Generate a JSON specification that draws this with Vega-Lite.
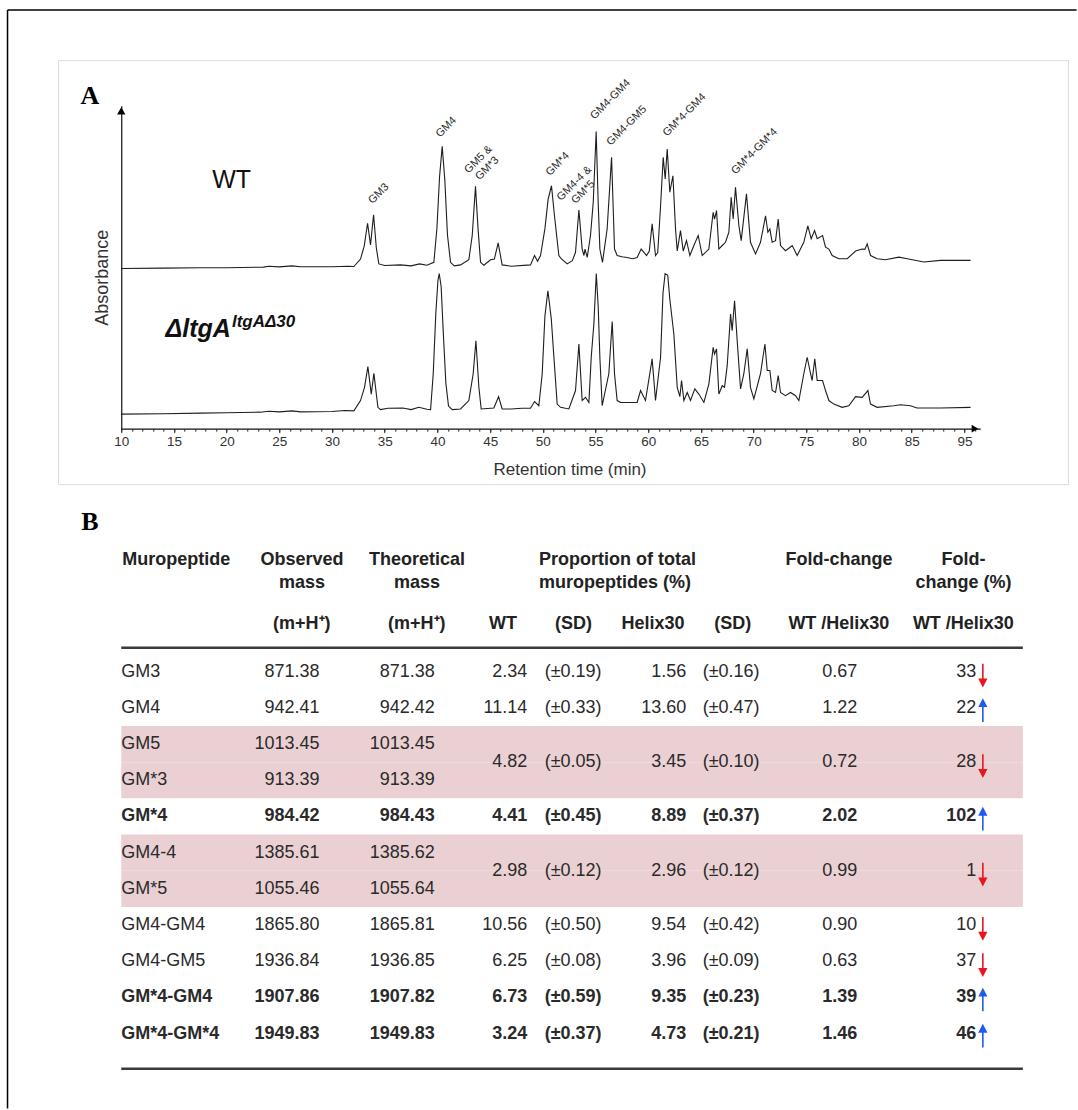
{
"$schema": "https://vega.github.io/schema/vega-lite/v6.json",
"autosize": {"type": "pad"},
"padding": {"left": 6.25, "top": 8.65, "right": 0, "bottom": 0},
"background": "#ffffff",
"bounds": "flush",
"spacing": 225,
"config": {"view": {"stroke": null}, "font": "Liberation Sans"},
"datasets": {
"chrom": [
{"s":"WT","t":10,"u":49.6},{"s":"WT","t":14,"u":49.7},{"s":"WT","t":17.5,"u":49.8},{"s":"WT","t":20,"u":49.8},{"s":"WT","t":23.5,"u":50.0},{"s":"WT","t":24,"u":50.3},{"s":"WT","t":25,"u":50.1},{"s":"WT","t":26.2,"u":50.4},{"s":"WT","t":27,"u":50.1},{"s":"WT","t":30,"u":50.1},{"s":"WT","t":31.5,"u":50.3},{"s":"WT","t":32.07,"u":50.2},{"s":"WT","t":32.7,"u":52.5},{"s":"WT","t":33.05,"u":56.5},{"s":"WT","t":33.37,"u":63.6},{"s":"WT","t":33.65,"u":56.9},{"s":"WT","t":33.94,"u":66.2},{"s":"WT","t":34.2,"u":56},{"s":"WT","t":34.44,"u":51},{"s":"WT","t":35,"u":50.5},{"s":"WT","t":36.5,"u":50.7},{"s":"WT","t":37.5,"u":50.4},{"s":"WT","t":38.3,"u":51},{"s":"WT","t":39.0,"u":50.6},{"s":"WT","t":39.66,"u":51.5},{"s":"WT","t":39.95,"u":62},{"s":"WT","t":40.2,"u":78},{"s":"WT","t":40.45,"u":87.4},{"s":"WT","t":40.7,"u":77},{"s":"WT","t":40.95,"u":60},{"s":"WT","t":41.24,"u":51.5},{"s":"WT","t":41.6,"u":50.4},{"s":"WT","t":42.19,"u":50.7},{"s":"WT","t":42.98,"u":52.3},{"s":"WT","t":43.3,"u":59.8},{"s":"WT","t":43.61,"u":75.0},{"s":"WT","t":43.85,"u":62},{"s":"WT","t":44.09,"u":51.5},{"s":"WT","t":44.4,"u":50.6},{"s":"WT","t":45.04,"u":52.3},{"s":"WT","t":45.4,"u":52.5},{"s":"WT","t":45.76,"u":57.5},{"s":"WT","t":46.14,"u":50.7},{"s":"WT","t":47,"u":50.3},{"s":"WT","t":48.83,"u":50.7},{"s":"WT","t":49.21,"u":53.6},{"s":"WT","t":49.5,"u":51.8},{"s":"WT","t":49.78,"u":53.6},{"s":"WT","t":50.2,"u":62},{"s":"WT","t":50.5,"u":71},{"s":"WT","t":50.82,"u":75.2},{"s":"WT","t":51.1,"u":66},{"s":"WT","t":51.52,"u":53.6},{"s":"WT","t":51.74,"u":52.6},{"s":"WT","t":52.31,"u":51.0},{"s":"WT","t":52.8,"u":52},{"s":"WT","t":53.1,"u":54.6},{"s":"WT","t":53.42,"u":67.7},{"s":"WT","t":53.73,"u":55.6},{"s":"WT","t":53.9,"u":53.6},{"s":"WT","t":54.0,"u":55.6},{"s":"WT","t":54.21,"u":53.0},{"s":"WT","t":54.52,"u":59.8},{"s":"WT","t":54.78,"u":70},{"s":"WT","t":55.06,"u":92.0},{"s":"WT","t":55.25,"u":70},{"s":"WT","t":55.41,"u":55.6},{"s":"WT","t":55.66,"u":51.5},{"s":"WT","t":56.1,"u":61.8},{"s":"WT","t":56.52,"u":84.0},{"s":"WT","t":56.8,"u":55.6},{"s":"WT","t":57.05,"u":53.6},{"s":"WT","t":57.5,"u":53.2},{"s":"WT","t":58.0,"u":53.0},{"s":"WT","t":58.5,"u":52.6},{"s":"WT","t":58.95,"u":53.0},{"s":"WT","t":59.33,"u":55.6},{"s":"WT","t":59.84,"u":53.6},{"s":"WT","t":60.1,"u":55},{"s":"WT","t":60.37,"u":63.4},{"s":"WT","t":60.69,"u":53.6},{"s":"WT","t":60.9,"u":54.5},{"s":"WT","t":61.17,"u":69.0},{"s":"WT","t":61.42,"u":84.0},{"s":"WT","t":61.61,"u":77.3},{"s":"WT","t":61.8,"u":86.6},{"s":"WT","t":62.05,"u":73.2},{"s":"WT","t":62.34,"u":78.3},{"s":"WT","t":62.59,"u":61.8},{"s":"WT","t":62.75,"u":55.0},{"s":"WT","t":63.06,"u":61.3},{"s":"WT","t":63.32,"u":55.0},{"s":"WT","t":63.63,"u":58.2},{"s":"WT","t":63.95,"u":53.6},{"s":"WT","t":64.33,"u":56.7},{"s":"WT","t":64.74,"u":59.8},{"s":"WT","t":65.12,"u":53.6},{"s":"WT","t":65.75,"u":55.6},{"s":"WT","t":66.16,"u":67.0},{"s":"WT","t":66.29,"u":64.9},{"s":"WT","t":66.48,"u":67.5},{"s":"WT","t":66.7,"u":55.6},{"s":"WT","t":67.02,"u":56.7},{"s":"WT","t":67.33,"u":57.7},{"s":"WT","t":67.65,"u":60.8},{"s":"WT","t":67.87,"u":71.6},{"s":"WT","t":68.06,"u":64.9},{"s":"WT","t":68.28,"u":74.7},{"s":"WT","t":68.6,"u":62.8},{"s":"WT","t":68.82,"u":58.2},{"s":"WT","t":69.32,"u":72.7},{"s":"WT","t":69.7,"u":57.7},{"s":"WT","t":70.18,"u":54.1},{"s":"WT","t":70.65,"u":57.7},{"s":"WT","t":71.13,"u":65.9},{"s":"WT","t":71.35,"u":60.8},{"s":"WT","t":71.54,"u":61.8},{"s":"WT","t":71.76,"u":57.7},{"s":"WT","t":72.08,"u":58.2},{"s":"WT","t":72.33,"u":64.9},{"s":"WT","t":72.55,"u":56.7},{"s":"WT","t":73.02,"u":55.1},{"s":"WT","t":73.4,"u":56},{"s":"WT","t":73.66,"u":56.7},{"s":"WT","t":74.13,"u":53.6},{"s":"WT","t":74.76,"u":57.7},{"s":"WT","t":75.14,"u":62.8},{"s":"WT","t":75.46,"u":58.8},{"s":"WT","t":75.78,"u":61.3},{"s":"WT","t":76.03,"u":58.8},{"s":"WT","t":76.54,"u":59.8},{"s":"WT","t":76.82,"u":56.2},{"s":"WT","t":77.14,"u":55.6},{"s":"WT","t":77.45,"u":53.6},{"s":"WT","t":78.08,"u":52.6},{"s":"WT","t":78.88,"u":52.6},{"s":"WT","t":79.67,"u":55.0},{"s":"WT","t":80.3,"u":55.6},{"s":"WT","t":80.55,"u":55.5},{"s":"WT","t":80.77,"u":57.2},{"s":"WT","t":81.09,"u":53.6},{"s":"WT","t":81.72,"u":52.6},{"s":"WT","t":82.5,"u":52.3},{"s":"WT","t":83.78,"u":53.1},{"s":"WT","t":84.57,"u":52.6},{"s":"WT","t":86.15,"u":51.6},{"s":"WT","t":87.73,"u":52.1},{"s":"WT","t":90.58,"u":52.1},
{"s":"MUT","t":10,"u":4.5},{"s":"MUT","t":14,"u":4.6},{"s":"MUT","t":17.5,"u":4.8},{"s":"MUT","t":20,"u":4.9},{"s":"MUT","t":23.2,"u":5.1},{"s":"MUT","t":24,"u":5.4},{"s":"MUT","t":25,"u":5.2},{"s":"MUT","t":26.2,"u":5.5},{"s":"MUT","t":27,"u":5.2},{"s":"MUT","t":30,"u":5.3},{"s":"MUT","t":31.2,"u":5.6},{"s":"MUT","t":32.07,"u":5.5},{"s":"MUT","t":32.7,"u":8.7},{"s":"MUT","t":33.08,"u":12.8},{"s":"MUT","t":33.4,"u":19.2},{"s":"MUT","t":33.72,"u":10.7},{"s":"MUT","t":33.97,"u":17.1},{"s":"MUT","t":34.35,"u":6.6},{"s":"MUT","t":34.6,"u":5.9},{"s":"MUT","t":35.3,"u":6.3},{"s":"MUT","t":36.7,"u":6.4},{"s":"MUT","t":37.5,"u":5.9},{"s":"MUT","t":38.24,"u":6.6},{"s":"MUT","t":39.0,"u":6.0},{"s":"MUT","t":39.35,"u":5.9},{"s":"MUT","t":39.6,"u":17.0},{"s":"MUT","t":39.85,"u":36},{"s":"MUT","t":40.05,"u":46},{"s":"MUT","t":40.17,"u":48.0},{"s":"MUT","t":40.35,"u":44},{"s":"MUT","t":40.55,"u":30},{"s":"MUT","t":40.8,"u":14},{"s":"MUT","t":41.05,"u":7},{"s":"MUT","t":41.4,"u":5.9},{"s":"MUT","t":42.19,"u":6.1},{"s":"MUT","t":42.98,"u":8.7},{"s":"MUT","t":43.39,"u":17.0},{"s":"MUT","t":43.65,"u":27.2},{"s":"MUT","t":43.93,"u":12.8},{"s":"MUT","t":44.15,"u":6.1},{"s":"MUT","t":45.35,"u":6.4},{"s":"MUT","t":45.8,"u":9.9},{"s":"MUT","t":46.14,"u":6.1},{"s":"MUT","t":47.0,"u":6.1},{"s":"MUT","t":48.0,"u":6.3},{"s":"MUT","t":48.83,"u":6.3},{"s":"MUT","t":49.21,"u":8.4},{"s":"MUT","t":49.62,"u":7.1},{"s":"MUT","t":49.94,"u":17.0},{"s":"MUT","t":50.2,"u":35},{"s":"MUT","t":50.48,"u":42.7},{"s":"MUT","t":50.8,"u":34},{"s":"MUT","t":51.05,"u":22.1},{"s":"MUT","t":51.36,"u":7.6},{"s":"MUT","t":51.68,"u":6.6},{"s":"MUT","t":52.47,"u":6.1},{"s":"MUT","t":53.1,"u":11.8},{"s":"MUT","t":53.42,"u":26.2},{"s":"MUT","t":53.73,"u":8.7},{"s":"MUT","t":54.05,"u":9.7},{"s":"MUT","t":54.37,"u":8.1},{"s":"MUT","t":54.59,"u":22.1},{"s":"MUT","t":54.84,"u":32.4},{"s":"MUT","t":55.07,"u":48.0},{"s":"MUT","t":55.25,"u":38},{"s":"MUT","t":55.41,"u":22.1},{"s":"MUT","t":55.63,"u":7.1},{"s":"MUT","t":56.26,"u":17.0},{"s":"MUT","t":56.58,"u":33.2},{"s":"MUT","t":56.8,"u":17.0},{"s":"MUT","t":57.05,"u":8.7},{"s":"MUT","t":57.37,"u":8.1},{"s":"MUT","t":58.95,"u":8.1},{"s":"MUT","t":59.27,"u":11.8},{"s":"MUT","t":59.74,"u":8.7},{"s":"MUT","t":60.37,"u":21.6},{"s":"MUT","t":60.69,"u":8.7},{"s":"MUT","t":61.17,"u":22.1},{"s":"MUT","t":61.4,"u":42},{"s":"MUT","t":61.6,"u":48.0},{"s":"MUT","t":61.85,"u":47.5},{"s":"MUT","t":62.05,"u":40},{"s":"MUT","t":62.43,"u":29.3},{"s":"MUT","t":62.75,"u":12.8},{"s":"MUT","t":63.0,"u":9.9},{"s":"MUT","t":63.16,"u":14.9},{"s":"MUT","t":63.38,"u":8.7},{"s":"MUT","t":63.7,"u":11.2},{"s":"MUT","t":64.01,"u":8.7},{"s":"MUT","t":64.42,"u":12.3},{"s":"MUT","t":64.8,"u":10.7},{"s":"MUT","t":65.28,"u":8.1},{"s":"MUT","t":65.75,"u":13.8},{"s":"MUT","t":66.16,"u":25.2},{"s":"MUT","t":66.29,"u":23.1},{"s":"MUT","t":66.48,"u":24.7},{"s":"MUT","t":66.7,"u":10.7},{"s":"MUT","t":67.02,"u":13.3},{"s":"MUT","t":67.24,"u":12.8},{"s":"MUT","t":67.49,"u":19.5},{"s":"MUT","t":67.81,"u":35.5},{"s":"MUT","t":67.96,"u":30.3},{"s":"MUT","t":68.19,"u":39.6},{"s":"MUT","t":68.44,"u":27.2},{"s":"MUT","t":68.76,"u":12.3},{"s":"MUT","t":69.07,"u":17.0},{"s":"MUT","t":69.39,"u":24.7},{"s":"MUT","t":69.7,"u":12.8},{"s":"MUT","t":70.02,"u":9.2},{"s":"MUT","t":70.65,"u":17.0},{"s":"MUT","t":71.07,"u":26.2},{"s":"MUT","t":71.29,"u":18.0},{"s":"MUT","t":71.54,"u":18.0},{"s":"MUT","t":71.76,"u":11.8},{"s":"MUT","t":72.08,"u":11.2},{"s":"MUT","t":72.33,"u":16.4},{"s":"MUT","t":72.55,"u":11.2},{"s":"MUT","t":73.02,"u":10.2},{"s":"MUT","t":73.5,"u":11.2},{"s":"MUT","t":73.98,"u":10.2},{"s":"MUT","t":74.29,"u":8.7},{"s":"MUT","t":74.76,"u":17.0},{"s":"MUT","t":75.08,"u":22.1},{"s":"MUT","t":75.4,"u":17.0},{"s":"MUT","t":75.55,"u":14.9},{"s":"MUT","t":75.8,"u":21.6},{"s":"MUT","t":76.03,"u":14.9},{"s":"MUT","t":76.54,"u":14.9},{"s":"MUT","t":76.82,"u":11.8},{"s":"MUT","t":77.14,"u":8.7},{"s":"MUT","t":77.6,"u":7.6},{"s":"MUT","t":78.4,"u":6.6},{"s":"MUT","t":79.03,"u":7.1},{"s":"MUT","t":79.67,"u":9.9},{"s":"MUT","t":80.3,"u":9.7},{"s":"MUT","t":80.84,"u":11.8},{"s":"MUT","t":81.09,"u":7.6},{"s":"MUT","t":81.72,"u":6.6},{"s":"MUT","t":83.3,"u":7.1},{"s":"MUT","t":83.94,"u":7.4},{"s":"MUT","t":84.88,"u":7.1},{"s":"MUT","t":85.5,"u":6.4},{"s":"MUT","t":87.73,"u":6.4},{"s":"MUT","t":90.58,"u":6.6}
],
"peaks": [
{"lab":"GM3","t":34.44,"u":72.7},{"lab":"GM4","t":40.83,"u":93.3},{"lab":"GM5 &\nGM*3","t":43.9,"u":83.3},{"lab":"GM*4","t":51.42,"u":81.9},{"lab":"GM4-4 &\nGM*5","t":53.0,"u":75.9},{"lab":"GM4-GM4","t":56.42,"u":101.9},{"lab":"GM4-GM5","t":57.97,"u":93.8},{"lab":"GM*4-GM4","t":63.44,"u":97.1},{"lab":"GM*4-GM*4","t":70.08,"u":85.8}
],
"tbl": [
{"name":"GM3","obs":"871.38","theo":"871.38","wt":"2.34","wtsd":"(±0.19)","hx":"1.56","hxsd":"(±0.16)","fold":"0.67","pct":"33","dir":"↓"},
{"name":"GM4","obs":"942.41","theo":"942.42","wt":"11.14","wtsd":"(±0.33)","hx":"13.60","hxsd":"(±0.47)","fold":"1.22","pct":"22","dir":"↑"},
{"name":"GM5","obs":"1013.45","theo":"1013.45","wt":"4.82","wtsd":"(±0.05)","hx":"3.45","hxsd":"(±0.10)","fold":"0.72","pct":"28","dir":"↓","merged":true,"pink":true},
{"name":"GM*3","obs":"913.39","theo":"913.39","pink":true},
{"name":"GM*4","obs":"984.42","theo":"984.43","wt":"4.41","wtsd":"(±0.45)","hx":"8.89","hxsd":"(±0.37)","fold":"2.02","pct":"102","dir":"↑","bold":true},
{"name":"GM4-4","obs":"1385.61","theo":"1385.62","wt":"2.98","wtsd":"(±0.12)","hx":"2.96","hxsd":"(±0.12)","fold":"0.99","pct":"1","dir":"↓","merged":true,"pink":true},
{"name":"GM*5","obs":"1055.46","theo":"1055.64","pink":true},
{"name":"GM4-GM4","obs":"1865.80","theo":"1865.81","wt":"10.56","wtsd":"(±0.50)","hx":"9.54","hxsd":"(±0.42)","fold":"0.90","pct":"10","dir":"↓"},
{"name":"GM4-GM5","obs":"1936.84","theo":"1936.85","wt":"6.25","wtsd":"(±0.08)","hx":"3.96","hxsd":"(±0.09)","fold":"0.63","pct":"37","dir":"↓"},
{"name":"GM*4-GM4","obs":"1907.86","theo":"1907.82","wt":"6.73","wtsd":"(±0.59)","hx":"9.35","hxsd":"(±0.23)","fold":"1.39","pct":"39","dir":"↑","bold":true},
{"name":"GM*4-GM*4","obs":"1949.83","theo":"1949.83","wt":"3.24","wtsd":"(±0.37)","hx":"4.73","hxsd":"(±0.21)","fold":"1.46","pct":"46","dir":"↑","bold":true}
],
"hdr": [
{"c":"name","txt":"Muropeptide"},
{"c":"obs","txt":"Observed\nmass"},
{"c":"theo","txt":"Theoretical\nmass"},
{"c":"prop","txt":"Proportion of total\nmuropeptides (%)"},
{"c":"fold","txt":"Fold-change"},
{"c":"pct","txt":"Fold-\nchange (%)"},
{"c":"obs_s","txt":"(m+H⁺)"},
{"c":"theo_s","txt":"(m+H⁺)"},
{"c":"wt","txt":"WT"},
{"c":"wtsd","txt":"(SD)"},
{"c":"hx","txt":"Helix30"},
{"c":"hxsd","txt":"(SD)"},
{"c":"fold_s","txt":"WT /Helix30"},
{"c":"pct_s","txt":"WT /Helix30"}
]
},
"vconcat": [
{
"width": 859, "height": 323,
"resolve": {"axis": {"x": "independent"}},
"layer": [
{"data": {"name": "chrom"}, "mark": {"type": "line", "color": "#1e1e1e", "strokeWidth": 1.1},
 "encoding": {
  "x": {"field": "t", "type": "quantitative", "scale": {"domain": [10, 91.5], "nice": false, "zero": false},
   "axis": {"orient": "bottom", "values": [10,15,20,25,30,35,40,45,50,55,60,65,70,75,80,85,90], "labelExpr": "datum.value == 90 ? '95' : datum.label", "labelFontSize": 13.5, "labelColor": "#333333", "labelPadding": 2, "labelFlush": false, "labelOverlap": false, "tickSize": 4, "tickColor": "#222222", "domainColor": "#111111", "domainWidth": 1.2, "grid": false, "title": "Retention time (min)", "titleFontSize": 17, "titleFontWeight": "normal", "titleColor": "#333333", "titleX": 448.3, "titleY": 46, "titleBaseline": "alphabetic"}},
  "y": {"field": "u", "type": "quantitative", "scale": {"domain": [0, 100], "nice": false, "zero": false},
   "axis": {"title": "Absorbance", "labels": false, "ticks": false, "grid": false, "domainColor": "#111111", "domainWidth": 1.2, "titleFontSize": 18, "titleFontWeight": "normal", "titleColor": "#333333", "titleX": -10, "titleY": 171.5, "titleAngle": 270, "titleBaseline": "bottom", "titleAlign": "center"}},
  "detail": {"field": "s", "type": "nominal"}}},
{"data": {"values": [{}]}, "mark": {"type": "rect", "fill": "transparent", "stroke": "#dcdcdc", "strokeWidth": 1},
 "encoding": {"x": {"datum": 4.05, "type": "quantitative", "axis": null}, "x2": {"datum": 99.88}, "y": {"datum": -17.34, "type": "quantitative"}, "y2": {"datum": 113.93}}},
{"data": {"values": [{}]}, "mark": {"type": "rule", "color": "#000000", "strokeWidth": 1.5},
 "encoding": {"x": {"datum": -0.79, "type": "quantitative", "axis": null}, "y": {"datum": 129.6, "type": "quantitative"}, "y2": {"datum": -210.5}}},
{"data": {"values": [{}]}, "mark": {"type": "rule", "color": "#000000", "strokeWidth": 1.5},
 "encoding": {"x": {"datum": -0.79, "type": "quantitative", "axis": null}, "x2": {"datum": 100.64}, "y": {"datum": 129.6, "type": "quantitative"}}},
{"data": {"name": "peaks"}, "mark": {"type": "text", "angle": 315, "fontSize": 11, "color": "#2a2a2a", "lineBreak": "\n", "lineHeight": 12.5, "align": "center", "baseline": "middle"},
 "encoding": {"x": {"field": "t", "type": "quantitative", "axis": null}, "y": {"field": "u", "type": "quantitative"}, "text": {"field": "lab"}}},
{"data": {"values": [{"lab": "WT", "t": 18.63, "u": 74.5}]}, "mark": {"type": "text", "fontSize": 25, "color": "#111111", "align": "left", "baseline": "alphabetic"},
 "encoding": {"x": {"field": "t", "type": "quantitative", "axis": null}, "y": {"field": "u", "type": "quantitative"}, "text": {"field": "lab"}}},
{"data": {"values": [{"lab": "ΔltgA", "t": 14.2, "u": 28.3}]}, "mark": {"type": "text", "fontSize": 25, "fontWeight": "bold", "fontStyle": "italic", "color": "#111111", "align": "left", "baseline": "alphabetic"},
 "encoding": {"x": {"field": "t", "type": "quantitative", "axis": null}, "y": {"field": "u", "type": "quantitative"}, "text": {"field": "lab"}}},
{"data": {"values": [{"lab": "ltgAΔ30", "t": 20.5, "u": 31.6}]}, "mark": {"type": "text", "fontSize": 17, "fontWeight": "bold", "fontStyle": "italic", "color": "#111111", "align": "left", "baseline": "alphabetic"},
 "encoding": {"x": {"field": "t", "type": "quantitative", "axis": null}, "y": {"field": "u", "type": "quantitative"}, "text": {"field": "lab"}}},
{"data": {"values": [{"lab": "A", "t": 6.14, "u": 100.6}]}, "mark": {"type": "text", "font": "Liberation Serif", "fontSize": 26, "fontWeight": "bold", "color": "#000000", "align": "left", "baseline": "alphabetic"},
 "encoding": {"x": {"field": "t", "type": "quantitative", "axis": null}, "y": {"field": "u", "type": "quantitative"}, "text": {"field": "lab"}}},
{"data": {"values": [{}]}, "mark": {"type": "point", "shape": "triangle-up", "filled": true, "color": "#000000", "opacity": 1, "size": 70},
 "encoding": {"x": {"datum": 10, "type": "quantitative", "axis": null}, "y": {"datum": 98.4, "type": "quantitative"}}},
{"data": {"values": [{}]}, "mark": {"type": "point", "shape": "triangle-right", "filled": true, "color": "#000000", "opacity": 1, "size": 60},
 "encoding": {"x": {"datum": 91.0, "type": "quantitative", "axis": {"orient": "bottom", "values": [10,11,12,13,14,15,16,17,18,19,20,21,22,23,24,25,26,27,28,29,30,31,32,33,34,35,36,37,38,39,40,41,42,43,44,45,46,47,48,49,50,51,52,53,54,55,56,57,58,59,60,61,62,63,64,65,66,67,68,69,70,71,72,73,74,75,76,77,78,79,80,81,82,83,84,85,86,87,88,89,90,91], "labels": false, "domain": false, "tickSize": 2.5, "tickColor": "#222222", "grid": false, "title": null}},
  "y": {"datum": 0, "type": "quantitative"}}}
]
},
{
"width": 901.6, "height": 398,
"data": {"name": "tbl"},
"encoding": {"y": {"field": "name", "type": "nominal", "scale": {"domain": ["GM3","GM4","GM5","GM*3","GM*4","GM4-4","GM*5","GM4-GM4","GM4-GM5","GM*4-GM4","GM*4-GM*4"], "paddingInner": 0, "paddingOuter": 0}, "axis": null}},
"layer": [
{"transform": [{"filter": "datum.pink === true"}], "mark": {"type": "rect", "color": "#ebd0d3"}},
{"data": {"values": [{}]}, "mark": {"type": "rule", "color": "#3a3a3a", "strokeWidth": 2.5, "yOffset": -6},
 "encoding": {"y": {"datum": "GM3", "type": "nominal", "bandPosition": 0}}},
{"data": {"values": [{}]}, "mark": {"type": "rule", "color": "#3a3a3a", "strokeWidth": 2.5, "yOffset": 17},
 "encoding": {"y": {"datum": "GM*4-GM*4", "type": "nominal", "bandPosition": 1}}},
{"mark": {"type": "text", "align": "left", "baseline": "middle", "fontSize": 18, "color": "#2a2a2a", "dx": 0, "fontWeight": {"expr": "datum.bold ? 'bold' : 'normal'"}},
 "encoding": {"x": {"datum": "name", "type": "nominal", "scale": {"type": "point", "domain": ["name","obs","theo","wt","wtsd","hx","hxsd","fold","pct"], "range": [0, 856], "padding": 0}, "axis": null}, "text": {"field": "name"}}},
{"mark": {"type": "text", "align": "right", "baseline": "middle", "fontSize": 18, "color": "#2a2a2a", "dx": 91.3, "fontWeight": {"expr": "datum.bold ? 'bold' : 'normal'"}},
 "encoding": {"x": {"datum": "obs", "type": "nominal", "axis": null}, "text": {"field": "obs"}}},
{"mark": {"type": "text", "align": "right", "baseline": "middle", "fontSize": 18, "color": "#2a2a2a", "dx": 99.6, "fontWeight": {"expr": "datum.bold ? 'bold' : 'normal'"}},
 "encoding": {"x": {"datum": "theo", "type": "nominal", "axis": null}, "text": {"field": "theo"}}},
{"transform": [{"filter": "isValid(datum.wt)"}], "mark": {"type": "text", "align": "right", "baseline": "middle", "fontSize": 18, "color": "#2a2a2a", "dx": 85, "dy": {"expr": "datum.merged ? 18.1 : 0"}, "fontWeight": {"expr": "datum.bold ? 'bold' : 'normal'"}},
 "encoding": {"x": {"datum": "wt", "type": "nominal", "axis": null}, "text": {"field": "wt"}}},
{"transform": [{"filter": "isValid(datum.wtsd)"}], "mark": {"type": "text", "align": "right", "baseline": "middle", "fontSize": 18, "color": "#2a2a2a", "dx": 52.3, "dy": {"expr": "datum.merged ? 18.1 : 0"}, "fontWeight": {"expr": "datum.bold ? 'bold' : 'normal'"}},
 "encoding": {"x": {"datum": "wtsd", "type": "nominal", "axis": null}, "text": {"field": "wtsd"}}},
{"transform": [{"filter": "isValid(datum.hx)"}], "mark": {"type": "text", "align": "right", "baseline": "middle", "fontSize": 18, "color": "#2a2a2a", "dx": 30, "dy": {"expr": "datum.merged ? 18.1 : 0"}, "fontWeight": {"expr": "datum.bold ? 'bold' : 'normal'"}},
 "encoding": {"x": {"datum": "hx", "type": "nominal", "axis": null}, "text": {"field": "hx"}}},
{"transform": [{"filter": "isValid(datum.hxsd)"}], "mark": {"type": "text", "align": "right", "baseline": "middle", "fontSize": 18, "color": "#2a2a2a", "dx": -3.7, "dy": {"expr": "datum.merged ? 18.1 : 0"}, "fontWeight": {"expr": "datum.bold ? 'bold' : 'normal'"}},
 "encoding": {"x": {"datum": "hxsd", "type": "nominal", "axis": null}, "text": {"field": "hxsd"}}},
{"transform": [{"filter": "isValid(datum.fold)"}], "mark": {"type": "text", "align": "right", "baseline": "middle", "fontSize": 18, "color": "#2a2a2a", "dx": -13, "dy": {"expr": "datum.merged ? 18.1 : 0"}, "fontWeight": {"expr": "datum.bold ? 'bold' : 'normal'"}},
 "encoding": {"x": {"datum": "fold", "type": "nominal", "axis": null}, "text": {"field": "fold"}}},
{"transform": [{"filter": "isValid(datum.pct)"}], "mark": {"type": "text", "align": "right", "baseline": "middle", "fontSize": 18, "color": "#2a2a2a", "dx": -1, "dy": {"expr": "datum.merged ? 18.1 : 0"}, "fontWeight": {"expr": "datum.bold ? 'bold' : 'normal'"}},
 "encoding": {"x": {"datum": "pct", "type": "nominal", "axis": null}, "text": {"field": "pct"}}},
{"transform": [{"filter": "isValid(datum.dir)"}], "mark": {"type": "point", "filled": true, "opacity": 1, "size": 484, "strokeWidth": 1.6, "xOffset": 5.6, "yOffset": {"expr": "datum.merged ? 21.1 : 3"}},
 "encoding": {"x": {"datum": "pct", "type": "nominal", "axis": null},
  "shape": {"field": "dir", "type": "nominal", "scale": {"domain": ["↓", "↑"], "range": ["M0,-1L0,0.6M-0.3,0.42L0,1L0.3,0.42Z", "M0,1L0,-0.6M-0.3,-0.42L0,-1L0.3,-0.42Z"]}, "legend": null},
  "fill": {"field": "dir", "type": "nominal", "scale": {"domain": ["↓", "↑"], "range": ["#e8161e", "#1f5bef"]}, "legend": null},
  "stroke": {"field": "dir", "type": "nominal", "scale": {"domain": ["↓", "↑"], "range": ["#e8161e", "#1f5bef"]}, "legend": null}}},
{"data": {"name": "hdr"}, "transform": [{"filter": "datum.c === 'name'"}], "mark": {"type": "text", "align": "left", "baseline": "alphabetic", "fontSize": 18, "fontWeight": "bold", "color": "#222222", "dx": 1, "dy": -106.6},
 "encoding": {"x": {"datum": "name", "type": "nominal", "axis": null}, "y": {"datum": "GM3", "type": "nominal"}, "text": {"field": "txt"}}},
{"data": {"name": "hdr"}, "transform": [{"filter": "datum.c === 'obs'"}], "mark": {"type": "text", "align": "center", "baseline": "alphabetic", "fontSize": 18, "fontWeight": "bold", "color": "#222222", "lineBreak": "\n", "lineHeight": 22.4, "dx": 73.8, "dy": -106.6},
 "encoding": {"x": {"datum": "obs", "type": "nominal", "axis": null}, "y": {"datum": "GM3", "type": "nominal"}, "text": {"field": "txt"}}},
{"data": {"name": "hdr"}, "transform": [{"filter": "datum.c === 'theo'"}], "mark": {"type": "text", "align": "center", "baseline": "alphabetic", "fontSize": 18, "fontWeight": "bold", "color": "#222222", "lineBreak": "\n", "lineHeight": 22.4, "dx": 81.8, "dy": -106.6},
 "encoding": {"x": {"datum": "theo", "type": "nominal", "axis": null}, "y": {"datum": "GM3", "type": "nominal"}, "text": {"field": "txt"}}},
{"data": {"name": "hdr"}, "transform": [{"filter": "datum.c === 'prop'"}], "mark": {"type": "text", "align": "left", "baseline": "alphabetic", "fontSize": 18, "fontWeight": "bold", "color": "#222222", "lineBreak": "\n", "lineHeight": 22.4, "dx": 96.8, "dy": -106.6},
 "encoding": {"x": {"datum": "wt", "type": "nominal", "axis": null}, "y": {"datum": "GM3", "type": "nominal"}, "text": {"field": "txt"}}},
{"data": {"name": "hdr"}, "transform": [{"filter": "datum.c === 'fold'"}], "mark": {"type": "text", "align": "center", "baseline": "alphabetic", "fontSize": 18, "fontWeight": "bold", "color": "#222222", "dx": -31.2, "dy": -106.6},
 "encoding": {"x": {"datum": "fold", "type": "nominal", "axis": null}, "y": {"datum": "GM3", "type": "nominal"}, "text": {"field": "txt"}}},
{"data": {"name": "hdr"}, "transform": [{"filter": "datum.c === 'pct'"}], "mark": {"type": "text", "align": "center", "baseline": "alphabetic", "fontSize": 18, "fontWeight": "bold", "color": "#222222", "lineBreak": "\n", "lineHeight": 22.4, "dx": -13.7, "dy": -106.6},
 "encoding": {"x": {"datum": "pct", "type": "nominal", "axis": null}, "y": {"datum": "GM3", "type": "nominal"}, "text": {"field": "txt"}}},
{"data": {"name": "hdr"}, "transform": [{"filter": "datum.c === 'obs_s'"}], "mark": {"type": "text", "align": "center", "baseline": "alphabetic", "fontSize": 18, "fontWeight": "bold", "color": "#222222", "dx": 73.6, "dy": -43},
 "encoding": {"x": {"datum": "obs", "type": "nominal", "axis": null}, "y": {"datum": "GM3", "type": "nominal"}, "text": {"field": "txt"}}},
{"data": {"name": "hdr"}, "transform": [{"filter": "datum.c === 'theo_s'"}], "mark": {"type": "text", "align": "center", "baseline": "alphabetic", "fontSize": 18, "fontWeight": "bold", "color": "#222222", "dx": 81.6, "dy": -43},
 "encoding": {"x": {"datum": "theo", "type": "nominal", "axis": null}, "y": {"datum": "GM3", "type": "nominal"}, "text": {"field": "txt"}}},
{"data": {"name": "hdr"}, "transform": [{"filter": "datum.c === 'wt'"}], "mark": {"type": "text", "align": "center", "baseline": "alphabetic", "fontSize": 18, "fontWeight": "bold", "color": "#222222", "dx": 60.8, "dy": -43},
 "encoding": {"x": {"datum": "wt", "type": "nominal", "axis": null}, "y": {"datum": "GM3", "type": "nominal"}, "text": {"field": "txt"}}},
{"data": {"name": "hdr"}, "transform": [{"filter": "datum.c === 'wtsd'"}], "mark": {"type": "text", "align": "center", "baseline": "alphabetic", "fontSize": 18, "fontWeight": "bold", "color": "#222222", "dx": 24.3, "dy": -43},
 "encoding": {"x": {"datum": "wtsd", "type": "nominal", "axis": null}, "y": {"datum": "GM3", "type": "nominal"}, "text": {"field": "txt"}}},
{"data": {"name": "hdr"}, "transform": [{"filter": "datum.c === 'hx'"}], "mark": {"type": "text", "align": "center", "baseline": "alphabetic", "fontSize": 18, "fontWeight": "bold", "color": "#222222", "dx": -3.2, "dy": -43},
 "encoding": {"x": {"datum": "hx", "type": "nominal", "axis": null}, "y": {"datum": "GM3", "type": "nominal"}, "text": {"field": "txt"}}},
{"data": {"name": "hdr"}, "transform": [{"filter": "datum.c === 'hxsd'"}], "mark": {"type": "text", "align": "center", "baseline": "alphabetic", "fontSize": 18, "fontWeight": "bold", "color": "#222222", "dx": -30.5, "dy": -43},
 "encoding": {"x": {"datum": "hxsd", "type": "nominal", "axis": null}, "y": {"datum": "GM3", "type": "nominal"}, "text": {"field": "txt"}}},
{"data": {"name": "hdr"}, "transform": [{"filter": "datum.c === 'fold_s'"}], "mark": {"type": "text", "align": "center", "baseline": "alphabetic", "fontSize": 18, "fontWeight": "bold", "color": "#222222", "dx": -31.4, "dy": -43},
 "encoding": {"x": {"datum": "fold", "type": "nominal", "axis": null}, "y": {"datum": "GM3", "type": "nominal"}, "text": {"field": "txt"}}},
{"data": {"name": "hdr"}, "transform": [{"filter": "datum.c === 'pct_s'"}], "mark": {"type": "text", "align": "center", "baseline": "alphabetic", "fontSize": 18, "fontWeight": "bold", "color": "#222222", "dx": -13.9, "dy": -43},
 "encoding": {"x": {"datum": "pct", "type": "nominal", "axis": null}, "y": {"datum": "GM3", "type": "nominal"}, "text": {"field": "txt"}}},
{"data": {"values": [{"lab": "B"}]}, "mark": {"type": "text", "font": "Liberation Serif", "fontSize": 26, "fontWeight": "bold", "color": "#000000", "align": "left", "baseline": "alphabetic", "dx": -40, "dy": -142.1},
 "encoding": {"x": {"datum": "name", "type": "nominal", "axis": null}, "y": {"datum": "GM3", "type": "nominal"}, "text": {"field": "lab"}}}
]
}
]
}
